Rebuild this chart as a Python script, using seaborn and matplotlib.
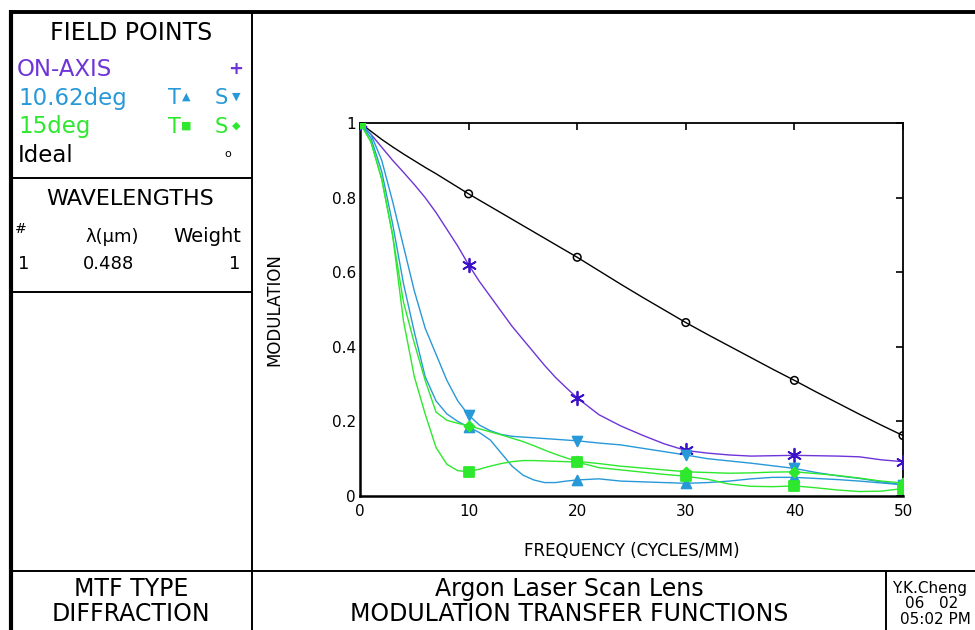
import matplotlib
matplotlib.use("Agg")
import matplotlib.pyplot as plt
import pandas as pd
import seaborn as sns

# ---------------- DATA ----------------
freq = [0, 1, 2, 3, 4, 5, 6, 7, 8, 9, 10, 11, 12, 13, 14, 15, 16, 17, 18, 19, 20,
        22, 24, 26, 28, 30, 32, 34, 36, 38, 40, 42, 44, 46, 48, 50]

ideal = [1.0, 0.978, 0.956, 0.936, 0.917, 0.899, 0.881, 0.864, 0.846, 0.828, 0.810,
         0.793, 0.776, 0.759, 0.742, 0.725, 0.708, 0.691, 0.674, 0.657, 0.640,
         0.604, 0.568, 0.533, 0.499, 0.465, 0.433, 0.402, 0.371, 0.340, 0.310,
         0.279, 0.249, 0.219, 0.190, 0.162]

on_axis = [1.0, 0.970, 0.935, 0.900, 0.868, 0.835, 0.800, 0.760, 0.715, 0.670, 0.620,
           0.575, 0.535, 0.495, 0.455, 0.420, 0.385, 0.350, 0.318, 0.290, 0.263,
           0.218, 0.188, 0.163, 0.140, 0.122, 0.115, 0.110, 0.107, 0.108, 0.109,
           0.108, 0.107, 0.105, 0.097, 0.092]

t_1062 = [1.0, 0.960, 0.870, 0.730, 0.570, 0.440, 0.320, 0.255, 0.220, 0.200, 0.185,
          0.170, 0.150, 0.115, 0.080, 0.056, 0.043, 0.036, 0.036, 0.040, 0.043,
          0.046, 0.040, 0.038, 0.036, 0.034, 0.036, 0.040, 0.046, 0.050, 0.050,
          0.047, 0.044, 0.040, 0.035, 0.030]

s_1062 = [1.0, 0.970, 0.900, 0.790, 0.670, 0.550, 0.450, 0.380, 0.310, 0.255, 0.217,
          0.190, 0.175, 0.165, 0.160, 0.158, 0.156, 0.154, 0.152, 0.150, 0.148,
          0.142, 0.137, 0.128, 0.119, 0.110, 0.100, 0.094, 0.088, 0.081, 0.074,
          0.063, 0.054, 0.047, 0.038, 0.030]

t_15 = [1.0, 0.950, 0.850, 0.700, 0.470, 0.320, 0.220, 0.130, 0.085, 0.068, 0.065,
        0.072, 0.080, 0.087, 0.092, 0.095, 0.095, 0.094, 0.093, 0.092, 0.091,
        0.076, 0.070, 0.064, 0.058, 0.053, 0.045, 0.032, 0.026, 0.025, 0.027,
        0.022, 0.016, 0.012, 0.013, 0.020]

s_15 = [1.0, 0.950, 0.850, 0.700, 0.520, 0.410, 0.310, 0.225, 0.203, 0.195, 0.188,
        0.180, 0.172, 0.164, 0.155, 0.146, 0.135, 0.123, 0.112, 0.102, 0.093,
        0.087, 0.080, 0.075, 0.070, 0.065, 0.063, 0.061, 0.062, 0.064, 0.065,
        0.060, 0.055, 0.048, 0.040, 0.035]

marker_freqs = [0, 10, 20, 30, 40, 50]
x_ticks = [0, 10, 20, 30, 40, 50]
y_ticks = [0, 0.2, 0.4, 0.6, 0.8, 1.0]
y_tick_labels = ["0", "0.2", "0.4", "0.6", "0.8", "1"]

PURPLE = "#6e34d8"
PURPLE_MK = "#3c12c8"
BLUE = "#2799d8"
GREEN = "#2de82d"

# name, values, line colour, marker, marker colour, filled, marker size
curves = [
    ("Ideal", ideal, "black", "o", "black", False, 30),
    ("ON-AXIS", on_axis, PURPLE, (6, 2, 0), PURPLE_MK, True, 95),
    ("10.62 S", s_1062, BLUE, "v", BLUE, True, 50),
    ("10.62 T", t_1062, BLUE, "^", BLUE, True, 50),
    ("15 S", s_15, GREEN, "D", GREEN, True, 26),
    ("15 T", t_15, GREEN, "s", GREEN, True, 45),
]

rows = []
for name, vals, *_ in curves:
    for f, v in zip(freq, vals):
        rows.append({"freq": f, "mtf": v, "curve": name})
df = pd.DataFrame(rows)

# ---------------- STYLE ----------------
sns.set_style("white")
plt.rcParams["font.family"] = ["DejaVu Sans"]
plt.rcParams["text.color"] = "black"
plt.rcParams["axes.labelcolor"] = "black"
plt.rcParams["xtick.color"] = "black"
plt.rcParams["ytick.color"] = "black"
plt.rcParams["xtick.direction"] = "in"
plt.rcParams["ytick.direction"] = "in"

fig = plt.figure(figsize=(9.75, 6.3), dpi=100)
fig.patch.set_facecolor("white")

# ---------------- FRAME (pixel coordinates) ----------------
frame = fig.add_axes([0, 0, 1, 1])
frame.set_xlim(0, 975)
frame.set_ylim(630, 0)
frame.axis("off")

line_kw = dict(color="black", solid_capstyle="butt")
frame.plot([11, 11], [10, 630], lw=3.0, **line_kw)
frame.plot([9.5, 975], [11.5, 11.5], lw=2.8, **line_kw)
frame.plot([252, 252], [11, 630], lw=1.4, **line_kw)
frame.plot([11, 252], [178, 178], lw=1.4, **line_kw)
frame.plot([11, 252], [292, 292], lw=1.4, **line_kw)
frame.plot([11, 975], [571, 571], lw=1.4, **line_kw)
frame.plot([886, 886], [571, 630], lw=1.4, **line_kw)

# field points block
frame.text(131, 33, "FIELD POINTS", ha="center", va="center", fontsize=17)
frame.text(17, 70, "ON-AXIS", ha="left", va="center", fontsize=16.5, color=PURPLE)
frame.text(236, 69, "+", ha="center", va="center", fontsize=13, color=PURPLE, fontweight="bold")
frame.text(18, 98, "10.62deg", ha="left", va="center", fontsize=16.5, color=BLUE)
frame.text(18, 127, "15deg", ha="left", va="center", fontsize=16.5, color=GREEN)
frame.text(18, 155, "Ideal", ha="left", va="center", fontsize=16.5, color="black")
frame.text(228, 154, "o", ha="center", va="center", fontsize=8, color="black")
for y, col, g1, g2 in [(98, BLUE, "\u25b2", "\u25bc"), (127, GREEN, "\u25a0", "\u25c6")]:
    frame.text(174, y, "T", ha="center", va="center", fontsize=15, color=col)
    frame.text(186, y - 1, g1, ha="center", va="center", fontsize=8, color=col)
    frame.text(221, y, "S", ha="center", va="center", fontsize=15, color=col)
    frame.text(236, y - 1, g2, ha="center", va="center", fontsize=8, color=col)

# wavelengths block
frame.text(130, 199, "WAVELENGTHS", ha="center", va="center", fontsize=16)
frame.text(15, 229, "#", ha="left", va="center", fontsize=10)
frame.text(112, 237, "\u03bb(\u03bcm)", ha="center", va="center", fontsize=13)
frame.text(241, 237, "Weight", ha="right", va="center", fontsize=14)
frame.text(18, 264, "1", ha="left", va="center", fontsize=13)
frame.text(83, 264, "0.488", ha="left", va="center", fontsize=13)
frame.text(240, 264, "1", ha="right", va="center", fontsize=13)

# bottom strip
frame.text(131, 589, "MTF TYPE", ha="center", va="center", fontsize=17)
frame.text(131, 614, "DIFFRACTION", ha="center", va="center", fontsize=17)
frame.text(569, 589, "Argon Laser Scan Lens", ha="center", va="center", fontsize=17)
frame.text(569, 614, "MODULATION TRANSFER FUNCTIONS", ha="center", va="center", fontsize=17)
frame.text(892, 588, "Y.K.Cheng", ha="left", va="center", fontsize=11)
frame.text(932, 604, "06   02", ha="center", va="center", fontsize=11)
frame.text(935, 620, "05:02 PM", ha="center", va="center", fontsize=11)

# ---------------- MTF PLOT ----------------
ax = fig.add_axes([360 / 975, 1 - 496 / 630, 543 / 975, 373 / 630])
ax.set_facecolor("none")

palette = {name: col for name, _, col, *_ in curves}
sns.lineplot(data=df, x="freq", y="mtf", hue="curve", palette=palette,
             estimator=None, sort=False, lw=1.0, legend=False, ax=ax)

marks = df[df["freq"].isin(marker_freqs)]
for name, _, _, marker, mcol, filled, size in curves:
    sub = marks[marks["curve"] == name]
    if filled:
        sns.scatterplot(data=sub, x="freq", y="mtf", marker=marker, s=size,
                        color=mcol, edgecolor=mcol, linewidth=1.3, ax=ax, zorder=5)
    else:
        sns.scatterplot(data=sub, x="freq", y="mtf", marker=marker, s=size,
                        facecolor="none", edgecolor=mcol, linewidth=1.1, ax=ax, zorder=5)

ax.set_xlim(0, 50)
ax.set_ylim(0, 1)
ax.set_xticks(x_ticks)
ax.set_xticklabels([str(t) for t in x_ticks])
ax.set_yticks(y_ticks)
ax.set_yticklabels(y_tick_labels)
ax.tick_params(axis="both", which="major", direction="in", length=5, width=1.2,
               labelsize=11, top=True, right=True, color="black", labelcolor="black")
ax.tick_params(axis="x", pad=6)
ax.tick_params(axis="y", pad=3)
for side in ["left", "bottom"]:
    ax.spines[side].set_linewidth(1.8)
for side in ["top", "right"]:
    ax.spines[side].set_linewidth(1.3)
for sp in ax.spines.values():
    sp.set_color("black")
    sp.set_visible(True)

ax.set_xlabel("FREQUENCY (CYCLES/MM)", fontsize=12, color="black")
ax.set_ylabel("MODULATION", fontsize=12, color="black")
ax.xaxis.set_label_coords(0.5, -0.123)
ax.yaxis.set_label_coords(-0.142, 0.5)

fig.savefig("out.png", dpi=100, facecolor="white")
